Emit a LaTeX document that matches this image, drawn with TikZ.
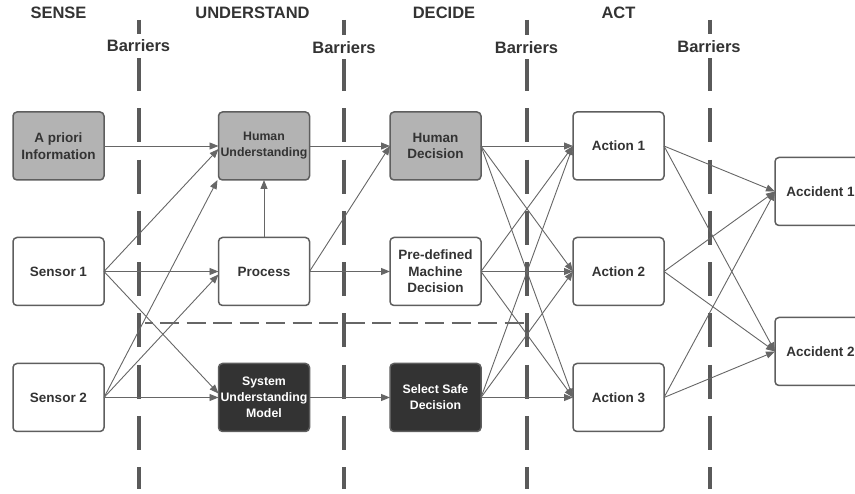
\documentclass[tikz,border=0pt]{standalone}
\usepackage{fontspec}
\setmainfont{Liberation Sans}
\usetikzlibrary{arrows.meta}
\definecolor{txt}{HTML}{333333}
\definecolor{bord}{HTML}{5E5E5E}
\definecolor{grayfill}{HTML}{B3B3B3}
\definecolor{darkfill}{HTML}{333333}
\definecolor{barr}{HTML}{5A5A5A}
\definecolor{arr}{HTML}{666666}
\tikzset{
  box/.style={draw=bord, line width=1.5pt, rounded corners=4pt, minimum width=91pt, minimum height=68pt,
    inner sep=0pt, outer sep=0pt, align=center, text=txt, font=\bfseries\fontsize{13.5}{16.5}\selectfont},
  graybox/.style={box, fill=grayfill},
  darkbox/.style={box, fill=darkfill, text=white},
  smalltxt/.style={font=\bfseries\fontsize{12.3}{16}\selectfont},
  header/.style={text=txt, font=\bfseries\fontsize{16.5}{20}\selectfont, inner sep=0pt},
  barlabel/.style={header, fill=white, minimum height=24pt},
  barrier/.style={draw=barr, line width=4pt, dash pattern=on 34pt off 17.3pt, dash phase=14.3pt},
  link/.style={draw=arr, line width=0.9pt, -{Triangle[length=9pt,width=7pt]}},
}
\begin{document}
\begin{tikzpicture}[x=1pt,y=-1pt]
\useasboundingbox (0,0) rectangle (855,494);
% barriers
\coordinate (b1t) at (138.5,20); \coordinate (b1b) at (138.5,489);
\coordinate (b2t) at (344,20); \coordinate (b2b) at (344,489);
\coordinate (b3t) at (527,20); \coordinate (b3b) at (527,489);
\coordinate (b4t) at (709.5,20); \coordinate (b4b) at (709.5,489);
\draw[barrier] (b1t) -- (b1b);
\draw[barrier] (b2t) -- (b2b);
\draw[barrier] (b3t) -- (b3b);
\draw[barrier] (b4t) -- (b4b);
% dashed horizontal
\coordinate (hl) at (145,323); \coordinate (hr) at (525,323);
\draw[draw=arr, line width=2pt, dash pattern=on 19pt off 7.5pt, dash phase=11.5pt] (hl) -- (hr);
% headers
\node[header] (hS) at (58.5,13) {SENSE};
\node[header] (hU) at (252.5,13) {UNDERSTAND};
\node[header] (hD) at (444,13) {DECIDE};
\node[header] (hA) at (618.5,13) {ACT};
\node[barlabel] (l1) at (138.5,46) {Barriers};
\node[barlabel] (l2) at (344,47.5) {Barriers};
\node[barlabel] (l3) at (526.5,47.5) {Barriers};
\node[barlabel] (l4) at (709,46.5) {Barriers};
% nodes
\node[graybox] (AP) at (58.5,146) {A priori\\Information};
\node[box] (S1) at (58.5,271.5) {Sensor 1};
\node[box] (S2) at (58.5,397.5) {Sensor 2};
\node[graybox, smalltxt] (HU) at (264,146) {Human\\Understanding};
\node[box] (PR) at (264,271.5) {Process};
\node[darkbox, smalltxt] (SU) at (264,397.5) {System\\Understanding\\Model};
\node[graybox] (HD) at (435.5,146) {Human\\Decision};
\node[box] (PD) at (435.5,271.5) {Pre-defined\\Machine\\Decision};
\node[darkbox, smalltxt] (SS) at (435.5,397.5) {Select Safe\\Decision};
\node[box] (A1) at (618.5,146) {Action 1};
\node[box] (A2) at (618.5,271.5) {Action 2};
\node[box] (A3) at (618.5,397.5) {Action 3};
\node[box] (C1) at (820.5,191.5) {Accident 1};
\node[box] (C2) at (820.5,351.5) {Accident 2};
% links sense -> understand
\path[link] (AP.east) -- (HU.west);
\path[link] (S1.east) -- ([yshift=-3pt]HU.west);
\path[link] (S2.east) -- ([xshift=-1pt]HU.south west);
\path[link] (S1.east) -- (PR.west);
\path[link] (S2.east) -- ([yshift=-3pt]PR.west);
\path[link] (S1.east) -- ([yshift=4pt]SU.west);
\path[link] (S2.east) -- (SU.west);
\path[link] (PR.north) -- (HU.south);
% understand -> decide
\path[link] (HU.east) -- (HD.west);
\path[link] (PR.east) -- (HD.west);
\path[link] (PR.east) -- (PD.west);
\path[link] (SU.east) -- (SS.west);
% decide -> act
\foreach \s in {HD,PD,SS}{
  \foreach \t in {A1,A2,A3}{
    \path[link] (\s.east) -- (\t.west);
  }
}
% act -> accident
\foreach \s in {A1,A2,A3}{
  \foreach \t in {C1,C2}{
    \path[link] (\s.east) -- (\t.west);
  }
}
\end{tikzpicture}
\end{document}
